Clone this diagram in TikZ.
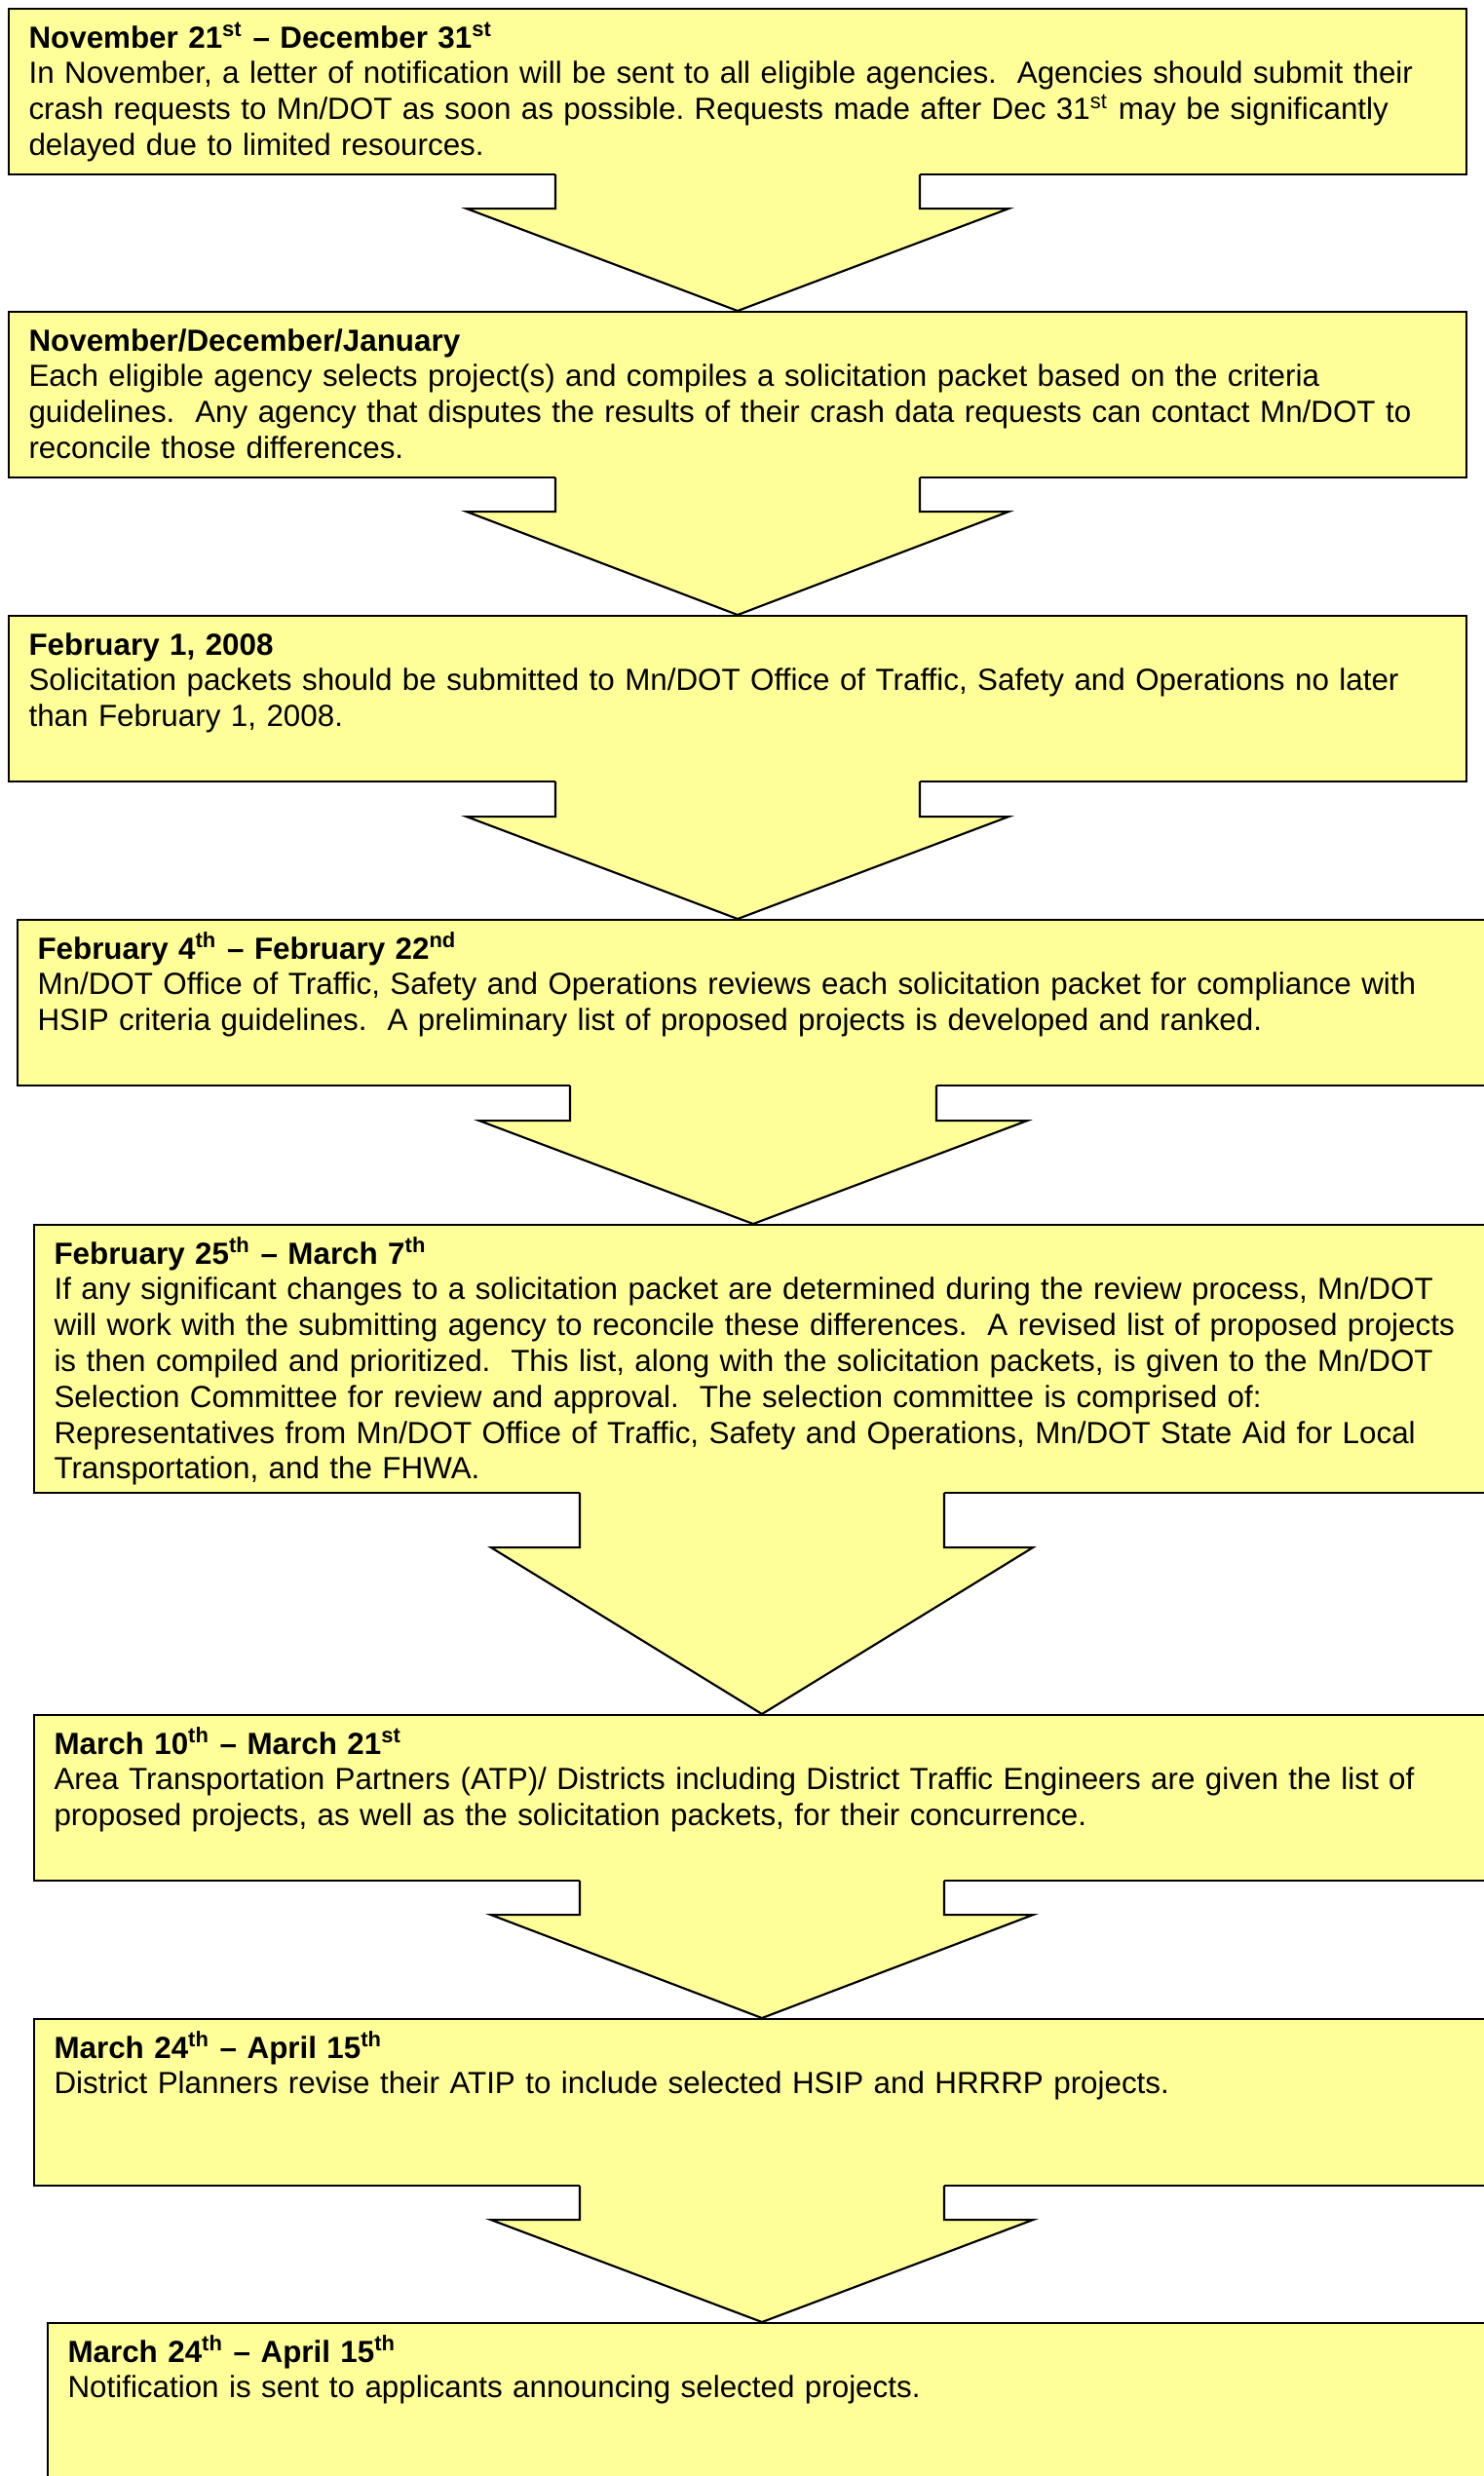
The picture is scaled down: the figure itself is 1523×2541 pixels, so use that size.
\documentclass[tikz,border=0pt]{standalone}
\usepackage{fontspec}
\setmainfont{Liberation Sans}
\definecolor{paleyellow}{RGB}{255,255,153}
\newcommand{\pxu}{0.375pt}
\frenchspacing

\begin{document}
\begin{tikzpicture}[x=\pxu,y=-\pxu,
  box/.style={draw,fill=paleyellow,line width=0.8pt,anchor=north west,inner sep=0pt},
  txt/.style={anchor=base west,inner sep=0pt,text width=1490*\pxu,align=left,
    font=\fontsize{11.76}{13.8}\selectfont}]
  \useasboundingbox (0,0) rectangle (1523,2541);
  \clip (0,0) rectangle (1523,2541);
  \foreach \n/\x/\y/\w/\h in {1/8/8/1496/170, 2/8/319/1496/170, 3/8/631/1496/170,
      4/17/943/1530/170, 5/34/1256/1520/275, 6/34/1759/1520/170,
      7/34/2071/1520/171, 8/48/2383/1520/220}
    \node[box,minimum width=\w*\pxu,minimum height=\h*\pxu] (b\n) at (\x,\y) {};
  \foreach \a/\b/\c/\s/\h/\l in {b1/b2/757/187/278/34, b2/b3/757/187/278/34,
      b3/b4/757/187/278/35, b4/b5/773/188/281/35, b5/b6/782/187/278/55,
      b6/b7/782/187/278/34, b7/b8/782/187/278/34} {
    \coordinate (m) at (\c,0);
    \coordinate (top) at (m |- \a.south);
    \coordinate (tip) at (m |- \b.north);
    \fill[paleyellow] ([shift={(-\s,-3)}]top) -- ([shift={(-\s,\l)}]top) -- ([shift={(-\h,\l)}]top)
      -- (tip) -- ([shift={(\h,\l)}]top) -- ([shift={(\s,\l)}]top) -- ([shift={(\s,-3)}]top) -- cycle;
    \draw[line width=0.8pt] ([shift={(-\s,-1)}]top) -- ([shift={(-\s,\l)}]top) -- ([shift={(-\h,\l)}]top)
      -- (tip) -- ([shift={(\h,\l)}]top) -- ([shift={(\s,\l)}]top) -- ([shift={(\s,-1)}]top);
  }
  \node[txt] (t1) at ([shift={(21,41)}]b1.north west) {\textbf{November 21\textsuperscript{st} -- December 31\textsuperscript{st}}\\
    In November, a letter of notification will be sent to all eligible agencies.\ \ Agencies should submit their\\
    crash requests to Mn/DOT as soon as possible. Requests made after Dec 31\textsuperscript{st} may be significantly\\
    delayed due to limited resources.};
  \node[txt] (t2) at ([shift={(21,41)}]b2.north west) {\textbf{November/December/January}\\
    Each eligible agency selects project(s) and compiles a solicitation packet based on the criteria\\
    guidelines.\ \ Any agency that disputes the results of their crash data requests can contact Mn/DOT to\\
    reconcile those differences.};
  \node[txt] (t3) at ([shift={(21,41)}]b3.north west) {\textbf{February 1, 2008}\\
    Solicitation packets should be submitted to Mn/DOT Office of Traffic, Safety and Operations no later\\
    than February 1, 2008.};
  \node[txt] (t4) at ([shift={(21,41)}]b4.north west) {\textbf{February 4\textsuperscript{th} -- February 22\textsuperscript{nd}}\\
    Mn/DOT Office of Traffic, Safety and Operations reviews each solicitation packet for compliance with\\
    HSIP criteria guidelines.\ \ A preliminary list of proposed projects is developed and ranked.};
  \node[txt] (t5) at ([shift={(21,41)}]b5.north west) {\textbf{February 25\textsuperscript{th} -- March 7\textsuperscript{th}}\\
    If any significant changes to a solicitation packet are determined during the review process, Mn/DOT\\
    will work with the submitting agency to reconcile these differences.\ \ A revised list of proposed projects\\
    is then compiled and prioritized.\ \ This list, along with the solicitation packets, is given to the Mn/DOT\\
    Selection Committee for review and approval.\ \ The selection committee is comprised of:\\
    Representatives from Mn/DOT Office of Traffic, Safety and Operations, Mn/DOT State Aid for Local\\
    Transportation, and the FHWA.};
  \node[txt] (t6) at ([shift={(21,41)}]b6.north west) {\textbf{March 10\textsuperscript{th} -- March 21\textsuperscript{st}}\\
    Area Transportation Partners (ATP)/ Districts including District Traffic Engineers are given the list of\\
    proposed projects, as well as the solicitation packets, for their concurrence.};
  \node[txt] (t7) at ([shift={(21,41)}]b7.north west) {\textbf{March 24\textsuperscript{th} -- April 15\textsuperscript{th}}\\
    District Planners revise their ATIP to include selected HSIP and HRRRP projects.};
  \node[txt] (t8) at ([shift={(21,41)}]b8.north west) {\textbf{March 24\textsuperscript{th} -- April 15\textsuperscript{th}}\\
    Notification is sent to applicants announcing selected projects.};
\end{tikzpicture}
\end{document}
